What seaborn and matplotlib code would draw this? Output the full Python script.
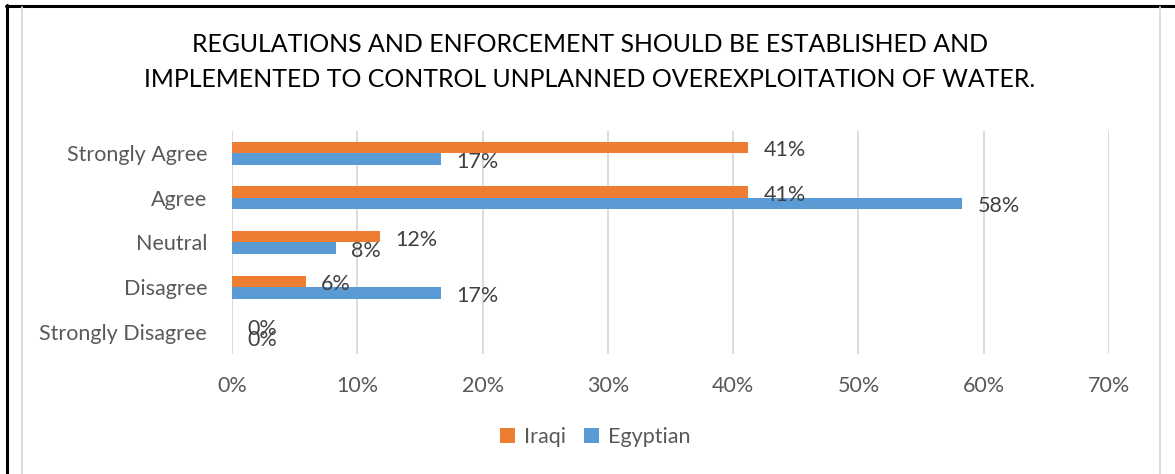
import matplotlib
matplotlib.use("Agg")
import matplotlib.pyplot as plt
import seaborn as sns
import pandas as pd
from matplotlib.lines import Line2D
from matplotlib.patches import Patch
from matplotlib.ticker import PercentFormatter

categories = ["Strongly Agree", "Agree", "Neutral", "Disagree", "Strongly Disagree"]
series_names = ["Iraqi", "Egyptian"]
iraqi = [41.2, 41.2, 11.8, 5.9, 0.0]
egyptian = [16.7, 58.3, 8.3, 16.7, 0.0]
x_ticks = [0, 10, 20, 30, 40, 50, 60, 70]
title = ("REGULATIONS AND ENFORCEMENT SHOULD BE ESTABLISHED AND\n"
         "IMPLEMENTED TO CONTROL UNPLANNED OVEREXPLOITATION OF WATER.")
colors = {"Iraqi": "#ED7D31", "Egyptian": "#5B9BD5"}

df = pd.DataFrame({
    "category": categories * 2,
    "series": ["Iraqi"] * len(categories) + ["Egyptian"] * len(categories),
    "value": iraqi + egyptian,
})

sns.set_theme(style="white")
FONT = "Lato"
plt.rcParams["font.family"] = [FONT, "DejaVu Sans"]

W, H = 1175, 474
FS = 15.5
fig = plt.figure(figsize=(W / 100, H / 100), dpi=100)
ax = fig.add_axes([232 / W, 1 - 354 / H, (1109 - 232) / W, (354 - 131) / H])

sns.barplot(data=df, y="category", x="value", hue="series", order=categories,
            hue_order=series_names, palette=colors, orient="h", width=0.515,
            saturation=1, ax=ax, legend=False, edgecolor="none")

ax.set_xlim(0, 70)
ax.set_xticks(x_ticks)
ax.xaxis.set_major_formatter(PercentFormatter(decimals=0))
ax.grid(axis="x", color="#D9D9D9", linewidth=1.3)
ax.set_axisbelow(True)
for s in ax.spines.values():
    s.set_visible(False)
ax.set_xlabel("")
ax.set_ylabel("")
ax.tick_params(axis="x", length=0, pad=16, labelsize=FS, labelcolor="#595959")
ax.tick_params(axis="y", length=0, pad=18, labelsize=FS, labelcolor="#595959")

for container in ax.containers:
    for patch in container:
        v = patch.get_width()
        y = patch.get_y() + patch.get_height() / 2
        ax.annotate(f"{round(v)}%", xy=(v, y), xytext=(11, -2),
                    textcoords="offset points", ha="left", va="center",
                    fontsize=FS, color="#404040")

fig.text(590 / W, 1 - 62 / H, title, ha="center", va="center",
         fontsize=17.9, color="#000000", linespacing=1.65)

handles = [Patch(facecolor=colors[s], edgecolor="none") for s in series_names]
fig.legend(handles, series_names, loc="center", bbox_to_anchor=(595 / W, 1 - 437 / H),
           ncol=2, frameon=False, fontsize=FS, labelcolor="#595959",
           handlelength=0.7, handleheight=0.7, handletextpad=0.4, columnspacing=0.85)

# frame lines
fig.add_artist(Line2D([6.5 / W, 6.5 / W], [0, 1 - 5 / H], color="black", lw=2.2,
                      transform=fig.transFigure))
fig.add_artist(Line2D([5.5 / W, 1], [1 - 6 / H, 1 - 6 / H], color="black", lw=2.2,
                      transform=fig.transFigure))
for xp in (21.5, 1159.5):
    fig.add_artist(Line2D([xp / W, xp / W], [0, 1 - 7 / H], color="#D9D9D9", lw=1.3,
                          transform=fig.transFigure))

fig.savefig("out.png", dpi=100)
